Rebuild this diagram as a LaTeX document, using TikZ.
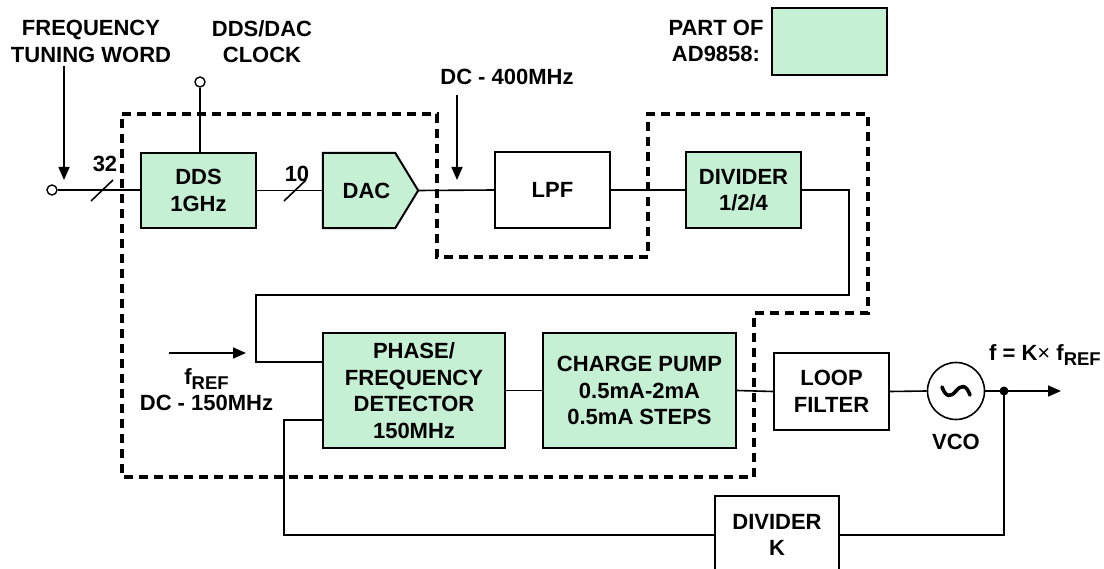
\documentclass[tikz,border=0pt]{standalone}
\usepackage{fontspec}
\setmainfont{Liberation Sans}
\usetikzlibrary{arrows.meta,backgrounds}
\definecolor{adgreen}{RGB}{198,240,212}
\tikzset{
  x=1pt, y=-1pt,
  every node/.style={font=\fontsize{22}{26.5}\selectfont\bfseries, inner sep=0pt, align=center},
  wire/.style={line width=1.6pt},
  arr/.style={line width=1.6pt, -{Triangle[length=13pt,width=11pt]}},
  gbox/.style={draw, line width=2pt, fill=adgreen, rectangle},
  wbox/.style={draw, line width=2pt, fill=white, rectangle},
  term/.style={circle, draw, line width=1.4pt, fill=white, minimum size=10pt},
  chip/.style={line width=3.2pt, dash pattern=on 9pt off 6pt}
}
\newcommand{\sref}{\raisebox{-5pt}{\fontsize{18.5}{18.5}\selectfont REF}}
\begin{document}
\begin{tikzpicture}
\useasboundingbox (0,0) rectangle (1104,569);

% chip outline
\draw[chip] (122,114) -- (437,114) -- (437,257) -- (648,257) -- (648,114) -- (868,114)
  -- (868,313) -- (754,313) -- (754,477) -- (122,477) -- cycle;

% blocks
\node[gbox, minimum width=115pt, minimum height=75pt] (dds) at (198.5,190.5) {DDS\\1GHz};
\node[minimum width=95pt, minimum height=75pt] (dac) at (370.5,190.5) {\hspace*{-8pt}DAC};
\begin{scope}[on background layer]
\draw[line width=2pt, fill=adgreen] (dac.north west) -- ([xshift=-23pt]dac.north east)
  -- (dac.east) -- ([xshift=-23pt]dac.south east) -- (dac.south west) -- cycle;
\end{scope}
\node[wbox, minimum width=115pt, minimum height=76pt] (lpf) at (552.5,190) {LPF};
\node[gbox, minimum width=115pt, minimum height=76pt] (div) at (743.5,190) {DIVIDER\\1/2/4};
\node[gbox, minimum width=182pt, minimum height=115pt] (pfd) at (414,390.5) {PHASE/\\FREQUENCY\\DETECTOR\\150MHz};
\node[gbox, minimum width=193pt, minimum height=115pt] (cp) at (639.5,390.5) {CHARGE PUMP\\0.5mA-2mA\\0.5mA STEPS};
\node[wbox, minimum width=115pt, minimum height=77pt] (lf) at (831.5,391.5) {LOOP\\FILTER};
\node[circle, draw, line width=1.6pt, fill=white, minimum size=57pt] (vco) at (956,391) {};
\draw[line width=3.6pt, line cap=round]
  ([xshift=-14pt,yshift=4pt]vco.center)
  .. controls ([xshift=-10pt,yshift=-7pt]vco.center) and ([xshift=-5pt,yshift=-6pt]vco.center) .. (vco.center)
  .. controls ([xshift=5pt,yshift=6pt]vco.center) and ([xshift=10pt,yshift=7pt]vco.center) .. ([xshift=14pt,yshift=-4pt]vco.center);
\node[wbox, minimum width=124pt, minimum height=78pt] (divk) at (777,535) {DIVIDER\\K};
\node[gbox, minimum width=115pt, minimum height=67pt] (legend) at (829.5,41.5) {};

% labels
\node (ftw) at (91,41.5) {FREQUENCY\\TUNING WORD};
\node (clk) at (262,41.5) {DDS/DAC\\CLOCK};
\node (n32) at (105,164) {32};
\node (n10) at (297,174) {10};
\node (dc400) at (507,77) {DC - 400MHz};
\node (fref) at (206.5,389.5) {f\sref\\DC - 150MHz};
\node[anchor=west] (fout) at (989,355) {f = K\textmd{×} f\sref};
\node (vcol) at (956,442) {VCO};
\node (part) at (716,41) {PART OF\\AD9858:};

% terminals and coordinates
\node[term] (inp) at (52,190) {};
\node[term] (clkin) at (200,82) {};
\coordinate (ftwtop) at (64,66);
\coordinate (ftwtip) at (64,180);
\coordinate (dctop) at (457,95);
\coordinate (dctip) at (457,180);
\coordinate (freftail) at (169,353);
\coordinate (freftip) at (246,353);
\coordinate (dot) at (1004,391);
\coordinate (outtip) at (1061,391);

% wires
\draw[wire] (inp) -- (dds.west |- inp);
\draw[arr] (ftwtop) -- (ftwtip);
\draw[wire] (91,201) -- (113,180);
\draw[wire] (clkin) -- (clkin |- dds.north);
\draw[wire] (dds.east) -- (dac.west);
\draw[wire] (284,201) -- (306,180);
\draw[wire] (dac.east) -- (lpf.west);
\draw[arr] (dctop) -- (dctip);
\draw[wire] (lpf.east) -- (div.west);
\draw[wire] (div.east) -- (849,190) -- (849,295) -- (256,295) -- (256,362) -- (pfd.west |- 0,362);
\draw[arr] (freftail) -- (freftip);
\draw[wire] (pfd.east) -- (cp.west);
\draw[wire] (cp.east) -- (lf.west);
\draw[wire] (lf.east) -- (vco.west);
\draw[wire] (vco.east) -- (dot);
\draw[arr] (dot) -- (outtip);
\fill (dot) circle (4.5pt);
\draw[wire] (dot) -- (dot |- divk.east) -- (divk.east);
\draw[wire] (divk.west) -- (284,535) -- (284,420) -- (pfd.west |- 0,420);
\end{tikzpicture}
\end{document}
